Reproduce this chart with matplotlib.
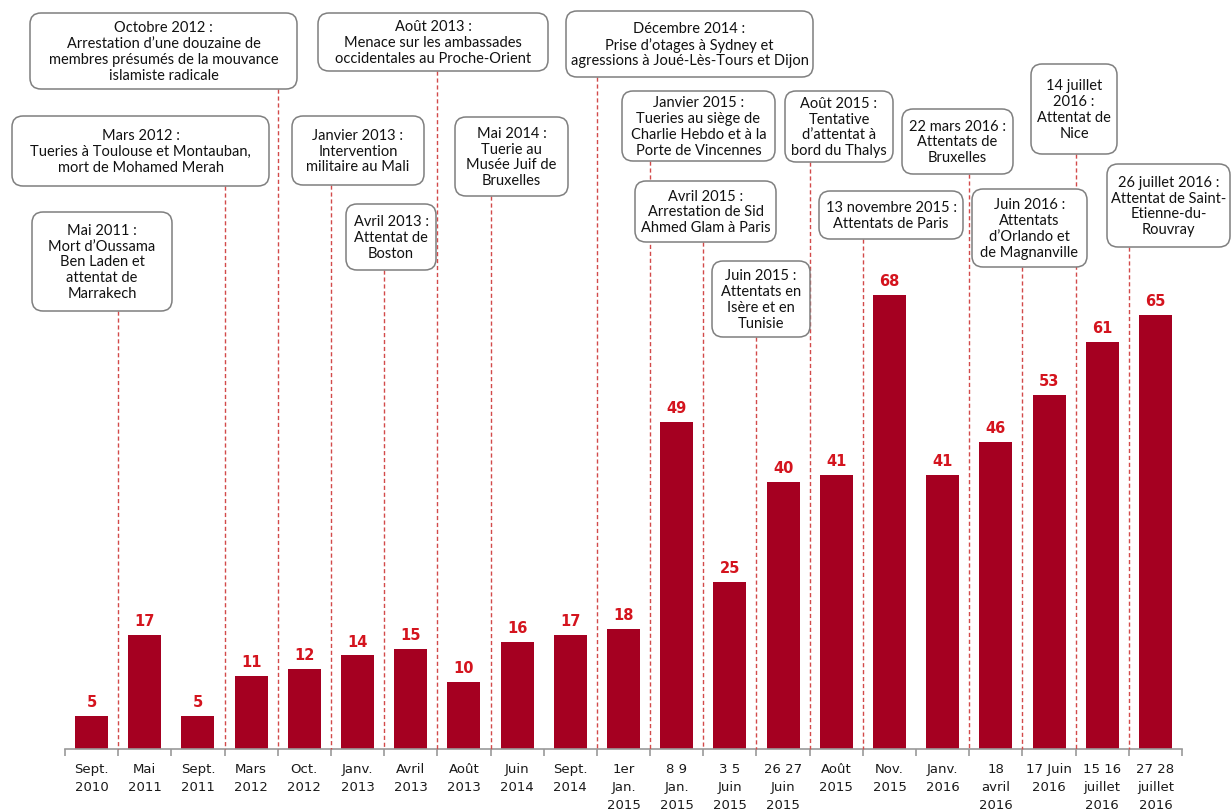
import numpy as np
import matplotlib
matplotlib.use("Agg")
from matplotlib import pyplot as plt
from matplotlib.patches import FancyBboxPatch

# sondages : part des Français jugeant la menace terroriste très élevée
categories = [
    "Sept.\n2010", "Mai\n2011", "Sept.\n2011", "Mars\n2012", "Oct.\n2012",
    "Janv.\n2013", "Avril\n2013", "Août\n2013", "Juin\n2014", "Sept.\n2014",
    "1er\nJan.\n2015", "8 9\nJan.\n2015", "3 5\nJuin\n2015", "26 27\nJuin\n2015",
    "Août\n2015", "Nov.\n2015", "Janv.\n2016", "18\navril\n2016", "17 Juin\n2016",
    "15 16\njuillet\n2016", "27 28\njuillet\n2016",
]
values = [5, 17, 5, 11, 12, 14, 15, 10, 16, 17, 18, 49, 25, 40, 41, 68, 41, 46, 53, 61, 65]

# événements : texte, index de la séparation où tombe le trait pointillé
event_texts = [
    "Mai 2011 :\nMort d’Oussama\nBen Laden et\nattentat de\nMarrakech",
    "Mars 2012 :\nTueries à Toulouse et Montauban,\nmort de Mohamed Merah",
    "Octobre 2012 :\nArrestation d’une douzaine de\nmembres présumés de la mouvance\nislamiste radicale",
    "Janvier 2013 :\nIntervention\nmilitaire au Mali",
    "Avril 2013 :\nAttentat de\nBoston",
    "Août 2013 :\nMenace sur les ambassades\noccidentales au Proche-Orient",
    "Mai 2014 :\nTuerie au\nMusée Juif de\nBruxelles",
    "Décembre 2014 :\nPrise d’otages à Sydney et\nagressions à Joué-Lès-Tours et Dijon",
    "Janvier 2015 :\nTueries au siège de\nCharlie Hebdo et à la\nPorte de Vincennes",
    "Avril 2015 :\nArrestation de Sid\nAhmed Glam à Paris",
    "Juin 2015 :\nAttentats en\nIsère et en\nTunisie",
    "Août 2015 :\nTentative\nd’attentat à\nbord du Thalys",
    "13 novembre 2015 :\nAttentats de Paris",
    "22 mars 2016 :\nAttentats de\nBruxelles",
    "14 juillet\n2016 :\nAttentat de\nNice",
    "Juin 2016 :\nAttentats\nd’Orlando et\nde Magnanville",
    "26 juillet 2016 :\nAttentat de Saint-\nEtienne-du-\nRouvray",
]
event_slots = [1, 3, 4, 5, 6, 7, 8, 10, 11, 12, 13, 14, 15, 17, 19, 18, 20]

# cadres en pixels (gauche, haut, droite, bas)
event_boxes = [
    (32, 213, 172, 312), (12, 117, 269, 187), (30, 14, 297, 90),
    (292, 117, 424, 186), (346, 205, 436, 271), (318, 14, 548, 72),
    (455, 118, 568, 197), (566, 12, 813, 78), (622, 92, 775, 162),
    (635, 182, 776, 243), (712, 262, 810, 338), (785, 92, 893, 163),
    (819, 192, 963, 240), (902, 110, 1013, 175), (1031, 65, 1117, 155),
    (972, 190, 1087, 268), (1107, 165, 1230, 248),
]

W, H = 1231, 812
bar_color = "#a50021"
label_color = "#d4141e"
dash_color = "#d24a4a"

fig = plt.figure(figsize=(W / 100, H / 100), dpi=100)
ax = fig.add_axes([65 / W, 62 / H, 1117 / W, 750 / H])

x = np.arange(len(values))
ax.bar(x, values, width=0.62, color=bar_color, zorder=2)
for xi, v in zip(x, values):
    ax.annotate(str(v), (xi, v), xytext=(0, 5), textcoords="offset points",
                ha="center", va="bottom", color=label_color,
                fontsize=10.5, fontweight="bold", family="DejaVu Sans")

ax.set_xlim(-0.5, len(values) - 0.5)
ax.set_ylim(0, 750 / 6.68)
for s in ["top", "right", "left"]:
    ax.spines[s].set_visible(False)
ax.spines["bottom"].set_color("#999999")
ax.spines["bottom"].set_linewidth(1.2)
ax.set_yticks([])
ax.set_xticks(np.arange(len(values) + 1) - 0.5)
ax.set_xticklabels([])
ax.tick_params(axis="x", which="major", length=5, color="#999999", width=1.2)
ax.set_xticks(x, categories, minor=True)
ax.tick_params(axis="x", which="minor", length=0, pad=9.5, labelsize=9.5,
               labelcolor="#1a1a1a")
for t in ax.get_xticklabels(minor=True):
    t.set_linespacing(1.5)
ax.patch.set_visible(False)

# calque en pixels pour les encadrés
ov = fig.add_axes([0, 0, 1, 1])
ov.set_xlim(0, W)
ov.set_ylim(H, 0)
ov.axis("off")
ov.patch.set_visible(False)

fig.canvas.draw()
for text, slot, (l, t, r, b) in zip(event_texts, event_slots, event_boxes):
    lx = ax.transData.transform((slot - 0.5, 0))[0]
    ov.plot([lx, lx], [b, 750], color=dash_color, lw=1, ls=(0, (3, 2)), zorder=1)
    ov.add_patch(FancyBboxPatch((l, t), r - l, b - t,
                                boxstyle="round,pad=0,rounding_size=11",
                                facecolor="white", edgecolor="#7f7f7f",
                                lw=1.1, zorder=2))
    ov.text((l + r) / 2, (t + b) / 2, text, ha="center", va="center",
            multialignment="center", fontsize=10.5, family="Lato",
            color="#111111", linespacing=1.17, zorder=3)

fig.savefig("out.png", dpi=100)
